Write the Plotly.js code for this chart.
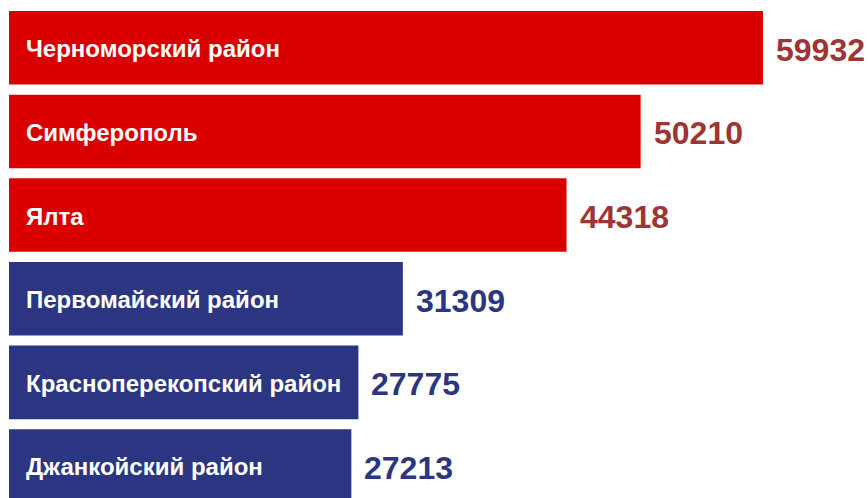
<!DOCTYPE html>
<html>
<head>
<meta charset="utf-8">
<script src="https://cdn.plot.ly/plotly-3.0.1.min.js"></script>
<style>html,body{margin:0;padding:0;background:#fff;}#chart{width:868px;height:498px;}</style>
</head>
<body>
<div id="chart"></div>
<script>
const categories = ["Черноморский район", "Симферополь", "Ялта", "Первомайский район", "Красноперекопский район", "Джанкойский район"];
const values = [59932, 50210, 44318, 31309, 27775, 27213];
const groups = ["red", "red", "red", "blue", "blue", "blue"];

const barColor = {red: "#da0000", blue: "#2b3582"};
const valueColor = {red: "#9e3434", blue: "#2b3582"};

const trace = {
  type: "bar",
  orientation: "h",
  y: categories,
  x: values,
  marker: {color: groups.map(g => barColor[g]), line: {width: 0}},
  hoverinfo: "none"
};

const annotations = [];
categories.forEach((c, i) => {
  annotations.push({
    x: 0, y: c, xref: "x", yref: "y", text: c, showarrow: false,
    xanchor: "left", yanchor: "middle", xshift: 15, yshift: -1,
    font: {family: "Liberation Sans, Arial, sans-serif", size: 24, color: "#ffffff", weight: "bold"}
  });
  annotations.push({
    x: values[i], y: c, xref: "x", yref: "y", text: String(values[i]), showarrow: false,
    xanchor: "left", yanchor: "middle", xshift: 11, yshift: -2,
    font: {family: "Liberation Sans, Arial, sans-serif", size: 32, color: valueColor[groups[i]], weight: "bold"}
  });
});

const layout = {
  width: 868, height: 498,
  margin: {l: 9, r: 0, t: 6, b: 0},
  paper_bgcolor: "#ffffff", plot_bgcolor: "#ffffff",
  showlegend: false,
  bargap: 0.12,
  xaxis: {range: [0, 68282], visible: false, fixedrange: true},
  yaxis: {type: "category", range: [5.383, -0.5], visible: false, fixedrange: true},
  annotations: annotations
};

Plotly.newPlot("chart", [trace], layout, {displayModeBar: false, staticPlot: true});
</script>
</body>
</html>
